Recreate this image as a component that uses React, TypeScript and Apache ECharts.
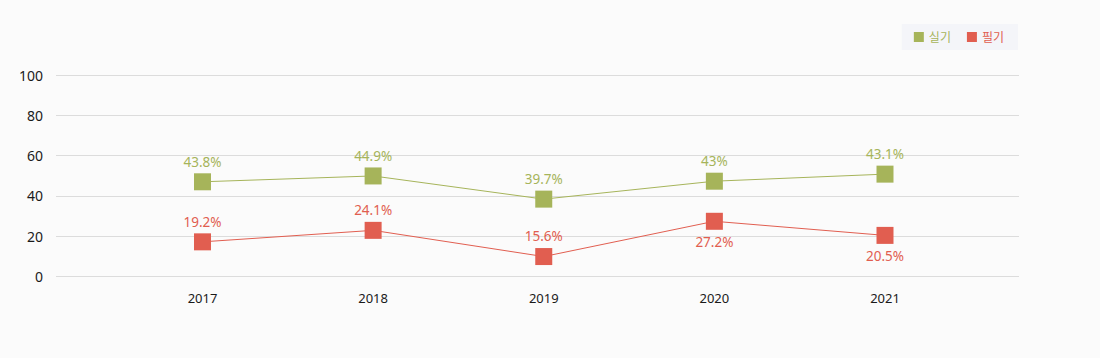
import React, { useEffect, useRef } from "react";
import * as echarts from "echarts";

const years = ["2017", "2018", "2019", "2020", "2021"];
const practicalValues = [47.0, 49.9, 38.4, 47.3, 50.8];
const practicalLabels = ["43.8%", "44.9%", "39.7%", "43%", "43.1%"];
const writtenValues = [17.2, 22.9, 9.9, 27.4, 20.4];
const writtenLabels = ["19.2%", "24.1%", "15.6%", "27.2%", "20.5%"];
const seriesNames = ["실기", "필기"];

const GREEN = "#a6b45a";
const RED = "#e15e50";
const FONT = "'Noto Sans', 'Noto Sans CJK KR', sans-serif";
const writtenBelow = new Set([3, 4]);

export default function App() {
  const ref = useRef<HTMLDivElement>(null);
  useEffect(() => {
    if (!ref.current) return;
    const chart = echarts.init(ref.current, null, { renderer: "svg" });
    const labelStyle = (color: string) => ({
      show: true,
      color,
      fontSize: 13.5,
      fontWeight: "normal",
      fontFamily: FONT,
      distance: 5,
    });
    chart.setOption({
      animation: false,
      backgroundColor: "#fbfbfb",
      legend: {
        right: 82,
        top: 24,
        backgroundColor: "#f4f5f9",
        padding: [7, 14, 7, 12],
        itemGap: 16,
        itemWidth: 10,
        itemHeight: 10,
        icon: "rect",
        textStyle: { fontSize: 12, fontFamily: FONT },
        data: [
          { name: seriesNames[0], textStyle: { color: GREEN } },
          { name: seriesNames[1], textStyle: { color: RED } },
        ],
      },
      grid: [
        { left: 56, right: 81, top: 75, bottom: 81.5 },
        { left: 202.5, right: 215, top: 75, bottom: 81.5 },
      ],
      xAxis: [
        { type: "value", gridIndex: 0, show: false, min: 0, max: 1 },
        {
          type: "category",
          gridIndex: 1,
          data: years,
          boundaryGap: false,
          axisLine: { show: false },
          axisTick: { show: false },
          axisLabel: {
            margin: 15,
            color: "#1a1a1a",
            fontSize: 13,
            fontWeight: "normal",
            fontFamily: FONT,
          },
        },
      ],
      yAxis: [
        {
          type: "value",
          gridIndex: 0,
          min: 0,
          max: 100,
          interval: 20,
          axisLine: { show: false },
          axisTick: { show: false },
          axisLabel: {
            margin: 13,
            color: "#1a1a1a",
            fontSize: 14,
            fontWeight: "normal",
            fontFamily: FONT,
          },
          splitLine: { lineStyle: { color: "#dcdcdc", width: 1 } },
        },
        { type: "value", gridIndex: 1, min: 0, max: 100, show: false, splitLine: { show: false } },
      ],
      series: [
        {
          name: seriesNames[0],
          type: "line",
          xAxisIndex: 1,
          yAxisIndex: 1,
          symbol: "rect",
          symbolSize: 17,
          itemStyle: { color: GREEN },
          lineStyle: { color: GREEN, width: 1 },
          label: {
            ...labelStyle(GREEN),
            position: "top",
            formatter: (p: any) => practicalLabels[p.dataIndex],
          },
          data: practicalValues,
        },
        {
          name: seriesNames[1],
          type: "line",
          xAxisIndex: 1,
          yAxisIndex: 1,
          symbol: "rect",
          symbolSize: 17,
          itemStyle: { color: RED },
          lineStyle: { color: RED, width: 1 },
          label: {
            ...labelStyle(RED),
            position: "top",
            formatter: (p: any) => writtenLabels[p.dataIndex],
          },
          data: writtenValues.map((v, i) =>
            writtenBelow.has(i) ? { value: v, label: { position: "bottom" } } : v
          ),
        },
      ],
    });
    return () => chart.dispose();
  }, []);
  return (
    <div
      ref={ref}
      style={{ position: "absolute", left: 0, top: 0, width: 1100, height: 358 }}
    />
  );
}
